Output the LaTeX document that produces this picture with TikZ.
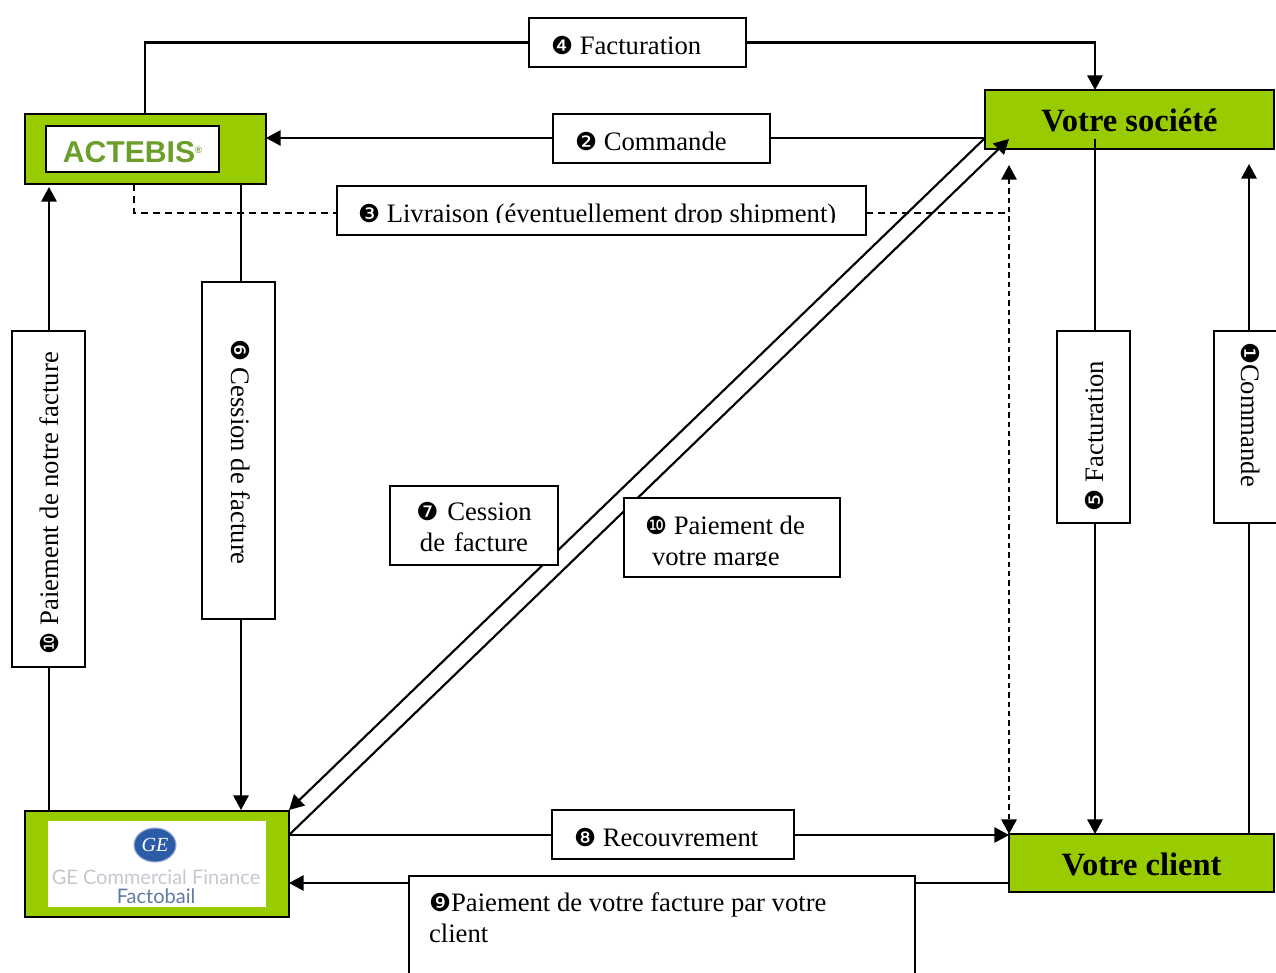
\documentclass[tikz,border=0pt]{standalone}
\usepackage{fontspec}
\setmainfont{Liberation Serif}
\newfontfamily\dingfont{DejaVu Sans}
\newfontfamily\logofont{Liberation Sans}
\newfontfamily\gefont{Lato}
\usetikzlibrary{arrows.meta}
\usetikzlibrary{calc}
\usetikzlibrary{shapes.geometric}
\definecolor{boxgreen}{HTML}{99CC00}
\definecolor{logogreen}{HTML}{6B9E2A}
\definecolor{geblue}{HTML}{2C5CA8}
\newcommand{\px}{0.75pt}
\newcommand{\dg}[1]{{\dingfont\fontsize{18.5}{20}\selectfont #1}}
\newcommand{\mg}[1]{\hspace*{\dimexpr #1\dimexpr 0.75pt\relax\relax}}

\begin{document}
\begin{tikzpicture}[x=0.75pt,y=-0.75pt,>={Triangle[length=11pt,width=11.5pt]},line width=1.6pt,
      every node/.style={font=\fontsize{20}{23.25}\selectfont,outer sep=0pt},
      green node/.style={draw,fill=boxgreen,anchor=north west,font=\fontsize{24.4}{28}\selectfont\bfseries,
        text height=18pt,text depth=0pt},
      msg node/.style 2 args={draw,fill=white,anchor=north west,align=flush left,
        minimum width=#1*\px,minimum height=#2*\px,inner xsep=0pt,text width=#1*\px,
        text height=18.5pt,text depth=0pt},
      side node/.style n args={3}{draw,fill=white,rotate=#3,align=flush left,
        minimum width=#1*\px,minimum height=#2*\px,inner xsep=0pt,text width=#1*\px,
        text height=15pt,text depth=0pt}]
    \useasboundingbox (0,0) rectangle (1276,973);
    % the three coloured boxes and the client
    \node[green node,minimum width=241*\px,minimum height=70*\px] (actebis) at (25,114) {};
    \node[draw,fill=white,line width=1pt,minimum width=173*\px,minimum height=46*\px,inner sep=0pt,
      text height=21pt,text depth=0pt,
      font=\logofont\fontsize{22.6}{24}\selectfont\bfseries,text=logogreen] (actebislogo) at (132.5,149)
      {ACTEBIS\raisebox{7pt}{\fontsize{7}{8}\selectfont\textregistered}};
    \node[green node,minimum width=264*\px,minimum height=106*\px] (ge) at (25,811) {};
    \node[fill=white,anchor=north west,minimum width=218*\px,minimum height=86*\px] (gelogo) at (48,821) {};
    \node[ellipse,fill=geblue,draw=geblue!50,line width=0.8pt,minimum width=42*\px,minimum height=34*\px,inner sep=0pt,
      font=\fontsize{15}{15}\selectfont\itshape,text=white] (gecircle) at (155,845) {GE};
    \node[font=\gefont\fontsize{15}{16}\selectfont,text=geblue!25!gray!40] (gename) at (156,877) {GE Commercial Finance};
    \node[font=\gefont\fontsize{15}{16}\selectfont,text=geblue!60!gray!90] (gefacto) at (156,896) {Factobail};
    \node[green node,minimum width=289*\px,minimum height=59*\px] (societe) at (985,90) {Votre soci\'et\'e};
    \node[green node,minimum width=265*\px,minimum height=58*\px] (client) at (1009,834) {Votre client};
    % free ends on the boxes
    \coordinate (acttop) at (145,114);
    \coordinate (actdash) at (134,184);
    \coordinate (actcess) at (241,184);
    \coordinate (actpay) at (49,187);
    \coordinate (gepay) at (49,811);
    \coordinate (gecess) at (241,810);
    \coordinate (gecorner) at (289,810);
    \coordinate (geout) at (289,835);
    \coordinate (gein) at (289,883);
    \coordinate (cliout) at (1009,883);
    \coordinate (soctop) at (1095,90);
    \coordinate (socwest) at (985,138);
    \coordinate (soctip) at (1009,139);
    \coordinate (socfact) at (1095,139);
    \coordinate (soccmd) at (1249,164);
    \coordinate (dashtop) at (1009,165);
    \coordinate (dashbot) at (1009,834);
    \coordinate (dashmid) at (1009,213);
    \coordinate (clifact) at (1095,834);
    \coordinate (clicmd) at (1249,834);
    % both long diagonals run behind the message boxes
    \path (socwest) edge [->] (gecorner)
          (geout) edge [->] (soctip);
    % message boxes
    \node[msg node={217}{49}] (fact4) at (529,18) {\mg{22}\dg{❹} Facturation};
    \node[msg node={217}{49}] (cmd2) at (553,114) {\mg{22}\dg{❷} Commande};
    \node[msg node={529}{49}] (liv3) at (337,186) {\mg{21}\dg{❸} Livraison (\'eventuellement drop shipment)};
    \node[msg node={242}{49}] (rec8) at (552,810) {\mg{22}\dg{❽} Recouvrement};
    \node[msg node={506}{110},text height=15pt,text depth=45pt] (pay9) at (409,876) {\mg{20}\dg{❾}Paiement de votre facture par votre\\\mg{20}client};
    \node[msg node={168}{79},align=center,text height=15pt,text depth=22pt] (cess7) at (390,486) {\dg{❼} Cession\\de facture};
    \node[msg node={216}{79},text height=15pt,text depth=20.25pt] (pay10) at (624,498) {\mg{21}\dg{❿} Paiement de\\\mg{28}votre marge};
    \node[side node={336}{73}{90}] (payleft) at (48.5,499) {\mg{13}\dg{❿} Paiement de notre facture};
    \node[side node={337}{73}{-90},text height=10.5pt] (cess6) at (238.5,450.5) {\mg{57}\dg{❻} Cession de facture};
    \node[side node={192}{73}{90}] (fact5) at (1093.5,427) {\mg{12}\dg{❺} Facturation};
    \node[side node={192}{73}{-90},text height=13.5pt] (cmd1) at (1250.5,427) {\mg{11}\dg{❶}Commande};
    % the two texts that stop short at the foot of their box
    \fill[white] (338.5,223) rectangle (864.5,233.5);
    \fill[white] (625.5,566) rectangle (838.5,575.5);
    % connectors
    \draw (acttop) |- (fact4.west);
    \draw [->] (fact4.east) -| (soctop);
    \path (socwest) edge (socwest -| cmd2.east)
          (cmd2.west |- socwest) edge [->] (actebis.east |- socwest);
    \draw [dash pattern=on 5.25pt off 3.75pt] (actdash) |- (liv3.west |- dashmid);
    \draw [dash pattern=on 5.25pt off 3.75pt] (liv3.east |- dashmid) -- (dashmid);
    \draw [<->,dash pattern=on 4pt off 3pt] (dashtop) -- (dashbot);
    \path (gepay) edge (gepay |- payleft.west)
          (actpay |- payleft.east) edge [->] (actpay)
          (actcess) edge (actcess |- cess6.west)
          (gecess |- cess6.east) edge [->] (gecess)
          (socfact) edge (socfact |- fact5.east)
          (clifact |- fact5.west) edge [->] (clifact)
          (clicmd) edge (clicmd |- cmd1.east)
          (soccmd |- cmd1.west) edge [->] (soccmd)
          (geout) edge (geout -| rec8.west)
          (rec8.east |- geout) edge [->] (geout -| client.west)
          (cliout) edge (cliout -| pay9.east)
          (cliout -| pay9.west) edge [->] (gein);
  \end{tikzpicture}
\end{document}
